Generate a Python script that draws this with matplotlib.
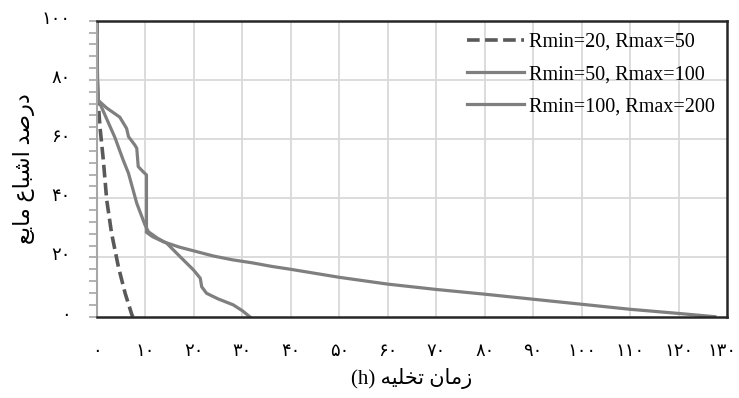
import matplotlib.pyplot as plt
import matplotlib.transforms as mtransforms
import numpy as np

# series (time in h, liquid saturation in %)
t_20_50 = [0.0, 0.05, 0.27, 0.6, 1.3, 2.0, 3.0, 4.4, 5.8, 7.2, 7.4]
s_20_50 = [100, 76, 72, 64.2, 52.9, 39.4, 28.2, 16.9, 7.9, 0.6, 0]

t_50_100 = [0.0, 0.1, 0.3, 1.0, 2.7, 3.7, 5.4, 6.5, 8.2, 9.9, 10.6, 12.5, 14.4,
            17.0, 19.9, 21.3, 21.6, 22.6, 25.0, 28.1, 30.0, 31.5]
s_50_100 = [100, 80, 73, 70.5, 64.2, 60.5, 52.9, 48.4, 38.3, 31.0, 28.7, 26.5, 24.8,
            20.5, 15.8, 13.0, 10.1, 7.9, 6.0, 4.0, 2.0, 0]

t_100_200 = [0.0, 0.1, 0.3, 2.0, 4.1, 4.7, 6.1, 6.5, 7.8, 8.2, 8.5, 9.5, 10.2, 10.2,
             11.5, 13.7, 17.0, 20.5, 24.0, 28.0, 32.0, 36.0, 40, 50, 60, 70, 80,
             90, 100, 110, 120, 127.5]
s_100_200 = [100, 80, 73, 70.5, 68.1, 67.4, 63.6, 60.8, 58.0, 56.9, 50.7, 49.0, 47.9, 28.5,
             27.0, 25.3, 23.5, 22.0, 20.5, 19.2, 18.2, 17.0, 16.0, 13.3, 11.0, 9.2, 7.6,
             5.9, 4.2, 2.5, 1.1, 0]

labels = ['Rmin=20, Rmax=50', 'Rmin=50, Rmax=100', 'Rmin=100, Rmax=200']

x_ticks = list(range(0, 131, 10))
y_ticks = list(range(0, 101, 20))

fa = str.maketrans('0123456789', '۰۱۲۳۴۵۶۷۸۹')

# Persian labels written in visual order with presentation forms (no shaping in mpl)
xlabel_txt = '(h) \ufeea\ufef4\ufee0\ufea8\ufe97 \ufee5\ufe8e\ufee3\ufeaf'
ylabel_txt = ('\ufeca\ufef3\ufe8e\ufee3 \ufec9\ufe8e\ufe92\ufeb7\ufe8d '
              '\ufeaa\ufebb\ufead\ufea9')

plt.rcParams['font.family'] = ['Liberation Serif', 'DejaVu Sans']

fig = plt.figure(figsize=(7.39, 3.98), dpi=100)
ax = fig.add_axes([0.1313, 0.2043, 0.8525, 0.7437])

grid_c = '#d9d9d9'
for xv in x_ticks[1:-1]:
    ax.axvline(xv, color=grid_c, lw=1.3, zorder=0)
for yv in y_ticks[1:-1]:
    ax.axhline(yv, color=grid_c, lw=1.3, zorder=0)

ax.plot(t_20_50, s_20_50, color='#595959', lw=2.6, dashes=(3.5, 1.5), label=labels[0])
ax.plot(t_50_100, s_50_100, color='#7f7f7f', lw=2.3, label=labels[1])
ax.plot(t_100_200, s_100_200, color='#7f7f7f', lw=2.3, label=labels[2])

ax.set_xlim(0, 130)
ax.set_ylim(0, 100)

ax.set_xticks(x_ticks)
ax.set_xticklabels([str(v).translate(fa) for v in x_ticks], family='DejaVu Sans', fontsize=13)
ax.set_yticks(y_ticks)
ax.set_yticklabels([str(v).translate(fa) for v in y_ticks], family='DejaVu Sans', fontsize=13)
ax.set_yticks(np.arange(0, 101, 4), minor=True)

ax.tick_params(axis='x', length=0, pad=18)
ax.tick_params(axis='y', which='both', length=6, width=1.2, color='#a6a6a6', pad=13, direction='out')

# persian digits sit a little above the tick line in the original
shift = mtransforms.ScaledTranslation(0, 4 / 100, fig.dpi_scale_trans)
for lab in ax.get_yticklabels():
    lab.set_transform(lab.get_transform() + shift)
# keep the last x label inside the figure
last = ax.get_xticklabels()[-1]
last.set_transform(last.get_transform() + mtransforms.ScaledTranslation(-5 / 100, 0, fig.dpi_scale_trans))

for s in ['top', 'right', 'bottom']:
    ax.spines[s].set_color('#262626')
    ax.spines[s].set_linewidth(1.8)
ax.spines['left'].set_color('#a6a6a6')
ax.spines['left'].set_linewidth(1.5)

ax.set_xlabel(xlabel_txt, fontsize=15, labelpad=6)
ax.set_ylabel(ylabel_txt, fontsize=16, labelpad=5)

ax.legend(loc='upper right', frameon=False, fontsize=14.5, handlelength=2.85,
          labelspacing=0.65, borderaxespad=0.2, handletextpad=0.25)

fig.savefig('out.png', dpi=100)
